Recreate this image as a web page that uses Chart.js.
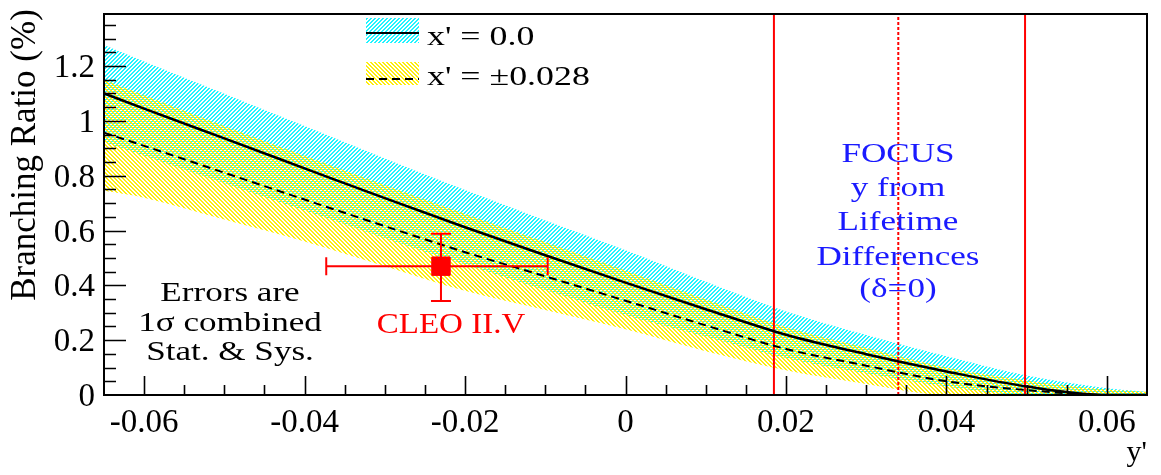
<!DOCTYPE html>
<html><head><meta charset="utf-8">
<script src="https://cdn.jsdelivr.net/npm/chart.js@4.4.0/dist/chart.umd.min.js"></script>
<style>html,body{margin:0;padding:0;background:#fff;overflow:hidden}canvas{display:block}</style>
</head><body>
<canvas id="c" width="1161" height="475"></canvas>
<script>
// ---- data ----
const yPrime        = [-0.065,-0.06,-0.05,-0.04,-0.03,-0.02,-0.01,0,0.01,0.02,0.03,0.04,0.05,0.06,0.065];
const brX0          = [1.10,1.045,0.936,0.827,0.718,0.612,0.51,0.41,0.313,0.22,0.149,0.086,0.031,0.0,0.0];
const brX028        = [0.957,0.909,0.811,0.713,0.616,0.521,0.433,0.344,0.254,0.168,0.107,0.05,0.018,0.0,0.0];
const bandX0Upper   = [1.277,1.217,1.099,0.981,0.863,0.748,0.637,0.528,0.413,0.305,0.219,0.141,0.071,0.025,0.012];
const bandX0Lower   = [0.923,0.873,0.773,0.673,0.573,0.476,0.383,0.292,0.213,0.135,0.079,0.031,0,0,0];
const bandX028Upper = [1.15,1.094,0.981,0.873,0.766,0.661,0.558,0.454,0.349,0.248,0.172,0.10,0.053,0.02,0.012];
const bandX028Lower = [0.745,0.72,0.64,0.56,0.47,0.38,0.31,0.24,0.16,0.09,0.04,0.0,0,0,0];
const focusBounds   = [0.0185, 0.034, 0.0498];   // lower, central (dotted), upper
const cleoPoint     = [-0.023, 0.47];
const cleoXRange    = [-0.0373, -0.0097];
const cleoYRange    = [0.343, 0.588];
const xTickValues   = [-0.06,-0.04,-0.02,0,0.02,0.04,0.06];
const xTickLabels   = ['-0.06','-0.04','-0.02','0','0.02','0.04','0.06'];
const yTickValues   = [0,0.2,0.4,0.6,0.8,1,1.2];
const yTickLabels   = ['0','0.2','0.4','0.6','0.8','1','1.2'];
const legendLabels  = ["x' = 0.0", "x' = \u00b10.028"];
const xRange = [-0.065, 0.065];
const yRange = [0, 1.39];

function hatch(color, dir){
  const s = 4, c = document.createElement('canvas');
  c.width = s; c.height = s;
  const g = c.getContext('2d');
  g.fillStyle = color;
  for (let y = 0; y < s; y++) for (let x = 0; x < s; x++) {
    const k = dir > 0 ? (x + y) % s : (x - y + s) % s;
    if (k < 2) g.fillRect(x, y, 1, 1);
  }
  return g.createPattern(c, 'repeat');
}
const cyanPat = hatch('#22f4ff', 1);
const yellowPat = hatch('#ffee10', -1);

const pts = arr => yPrime.map((x, i) => ({x, y: arr[i]}));
const vline = v => [{x: v, y: yRange[0]}, {x: v, y: yRange[1]}];

const SERIF = '"Liberation Serif", "Times New Roman", serif';
function txt(ctx, s, x, y, font, color, align, sx){
  ctx.save();
  ctx.font = font; ctx.fillStyle = color; ctx.textAlign = align || 'left';
  ctx.textBaseline = 'alphabetic';
  ctx.translate(x, y); ctx.scale(sx || 1, 1);
  ctx.fillText(s, 0, 0);
  ctx.restore();
}

const decor = {
  id: 'decor',
  afterDatasetsDraw(chart){
    const ctx = chart.ctx, xs = chart.scales.x, ys = chart.scales.y;
    // CLEO error bars
    ctx.save();
    ctx.strokeStyle = '#ff0000'; ctx.lineWidth = 2;
    const px = xs.getPixelForValue(cleoPoint[0]), py = ys.getPixelForValue(cleoPoint[1]);
    const x1 = xs.getPixelForValue(cleoXRange[0]), x2 = xs.getPixelForValue(cleoXRange[1]);
    const y1 = ys.getPixelForValue(cleoYRange[0]), y2 = ys.getPixelForValue(cleoYRange[1]);
    ctx.beginPath();
    ctx.moveTo(x1, py); ctx.lineTo(x2, py);
    ctx.moveTo(x1, py-9); ctx.lineTo(x1, py+9);
    ctx.moveTo(x2, py-9); ctx.lineTo(x2, py+9);
    ctx.moveTo(px, y1); ctx.lineTo(px, y2);
    ctx.moveTo(px-10, y1); ctx.lineTo(px+10, y1);
    ctx.moveTo(px-10, y2); ctx.lineTo(px+10, y2);
    ctx.stroke();
    ctx.restore();
  },
  afterDraw(chart){
    const ctx = chart.ctx, xs = chart.scales.x, ys = chart.scales.y, a = chart.chartArea;
    ctx.save();
    // frame
    ctx.strokeStyle = '#000'; ctx.lineWidth = 2;
    ctx.strokeRect(a.left, a.top, a.right - a.left, a.bottom - a.top);
    // ticks (inside)
    ctx.lineWidth = 1.6; ctx.beginPath();
    for (let k = -13; k <= 13; k++) {
      const v = k * 0.005; if (v <= xRange[0] || v >= xRange[1]) continue;
      const X = Math.round(xs.getPixelForValue(v)) + 0.5;
      ctx.moveTo(X, a.bottom); ctx.lineTo(X, a.bottom - (k % 4 === 0 ? 19 : 10));
    }
    for (let k = 1; k * 0.05 < yRange[1]; k++) {
      const Y = Math.round(ys.getPixelForValue(k * 0.05)) + 0.5;
      ctx.moveTo(a.left, Y); ctx.lineTo(a.left + (k % 4 === 0 ? 22 : 12), Y);
    }
    ctx.stroke();
    // tick labels
    const tf = '33px ' + SERIF;
    xTickValues.forEach((v, i) => txt(ctx, xTickLabels[i], xs.getPixelForValue(v), 432, tf, '#000', 'center'));
    yTickValues.forEach((v, i) => txt(ctx, yTickLabels[i], 95, ys.getPixelForValue(v) + 11, tf, '#000', 'right'));
    // axis titles
    ctx.save();
    ctx.translate(35, 155); ctx.rotate(-Math.PI / 2);
    txt(ctx, 'Branching Ratio (%)', 0, 0, '35px ' + SERIF, '#000', 'center');
    ctx.restore();
    txt(ctx, "y'", 1147, 461, '30px ' + SERIF, '#000', 'right');
    // legend
    const boxes = [[366, 18, 53, 25, cyanPat, 33, []], [366, 62, 53, 23, yellowPat, 79, [8, 5]]];
    boxes.forEach((b, i) => {
      ctx.fillStyle = b[4]; ctx.fillRect(b[0], b[1], b[2], b[3]);
      ctx.strokeStyle = '#000'; ctx.lineWidth = 2; ctx.setLineDash(b[6]);
      ctx.beginPath(); ctx.moveTo(b[0], b[5]); ctx.lineTo(b[0] + b[2], b[5]); ctx.stroke();
      ctx.setLineDash([]);
    });
    txt(ctx, legendLabels[0], 427, 45, '28px ' + SERIF, '#000', 'left', 1.28);
    txt(ctx, legendLabels[1], 427, 85, '28px ' + SERIF, '#000', 'left', 1.28);
    // annotations
    const nf = '27px ' + SERIF;
    txt(ctx, 'Errors are', 230, 301, nf, '#000', 'center', 1.3);
    txt(ctx, '1\u03c3 combined', 230, 331, nf, '#000', 'center', 1.3);
    txt(ctx, 'Stat. & Sys.', 230, 360, nf, '#000', 'center', 1.3);
    txt(ctx, 'CLEO II.V', 451, 333, '30px ' + SERIF, '#ff0000', 'center', 1.1);
    const ff = '27px ' + SERIF, blue = '#1a1aff';
    txt(ctx, 'FOCUS', 898, 162, ff, blue, 'center', 1.3);
    txt(ctx, 'y from', 898, 196, ff, blue, 'center', 1.3);
    txt(ctx, 'Lifetime', 898, 230, ff, blue, 'center', 1.3);
    txt(ctx, 'Differences', 898, 265, ff, blue, 'center', 1.3);
    txt(ctx, '(\u03b4=0)', 898, 297, ff, blue, 'center', 1.3);
    ctx.restore();
  }
};

const lineBase = {pointRadius: 0, cubicInterpolationMode: 'monotone'};
new Chart(document.getElementById('c'), {
  type: 'line',
  data: {
    datasets: [
      {...lineBase, label: 'x028 band hi', data: pts(bandX028Upper), fill: '+1', backgroundColor: yellowPat, borderWidth: 0, order: 5},
      {...lineBase, label: 'x028 band lo', data: pts(bandX028Lower), fill: false, borderWidth: 0, order: 5},
      {...lineBase, label: 'x0 band hi', data: pts(bandX0Upper), fill: '+1', backgroundColor: cyanPat, borderWidth: 0, order: 6},
      {...lineBase, label: 'x0 band lo', data: pts(bandX0Lower), fill: false, borderWidth: 0, order: 6},
      {...lineBase, label: legendLabels[1], data: pts(brX028), borderColor: '#000', borderWidth: 2, borderDash: [8, 5], fill: false, order: 2},
      {...lineBase, label: legendLabels[0], data: pts(brX0), borderColor: '#000', borderWidth: 2.5, fill: false, order: 1},
      {label: 'FOCUS lo', data: vline(focusBounds[0]), borderColor: '#ff0000', borderWidth: 2, pointRadius: 0, fill: false, order: 3},
      {label: 'FOCUS c', data: vline(focusBounds[1]), borderColor: '#ff0000', borderWidth: 2, borderDash: [3, 2], pointRadius: 0, fill: false, order: 3},
      {label: 'FOCUS hi', data: vline(focusBounds[2]), borderColor: '#ff0000', borderWidth: 2, pointRadius: 0, fill: false, order: 3},
      {label: 'CLEO II.V', data: [{x: cleoPoint[0], y: cleoPoint[1]}], showLine: false, pointStyle: 'rect', pointRadius: 13, pointBackgroundColor: '#ff0000', pointBorderColor: '#ff0000', pointBorderWidth: 1, order: 0}
    ]
  },
  options: {
    responsive: false, animation: false,
    layout: {padding: {left: 104, right: 11, top: 3, bottom: 80}},
    scales: {
      x: {type: 'linear', min: xRange[0], max: xRange[1], display: false},
      y: {type: 'linear', min: yRange[0], max: yRange[1], display: false}
    },
    plugins: {legend: {display: false}, tooltip: {enabled: false}},
    elements: {line: {tension: 0}}
  },
  plugins: [decor]
});
</script>
</body></html>
